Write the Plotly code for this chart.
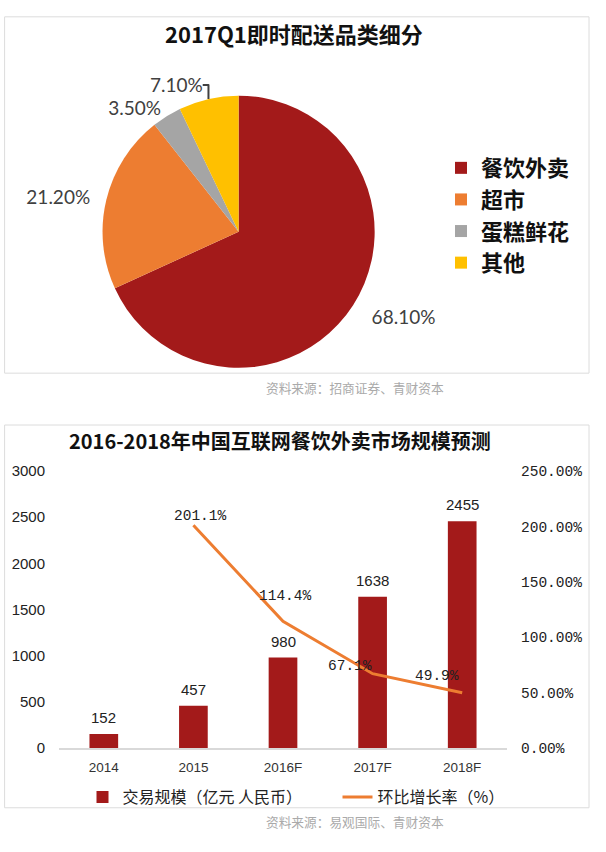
import plotly.graph_objects as go

# ---------------- data ----------------
pie_title = "2017Q1即时配送品类细分"
pie_labels = ["餐饮外卖", "超市", "蛋糕鲜花", "其他"]
pie_values = [68.1, 21.2, 3.5, 7.1]
pie_source = "资料来源：招商证券、青财资本"

bar_title = "2016-2018年中国互联网餐饮外卖市场规模预测"
years = ["2014", "2015", "2016F", "2017F", "2018F"]
gmv = [152, 457, 980, 1638, 2455]
growth_years = ["2015", "2016F", "2017F", "2018F"]
growth = [201.1, 114.4, 67.1, 49.9]
bar_name = "交易规模（亿元 人民币）"
line_name = "环比增长率（%）"
left_ticks = [0, 500, 1000, 1500, 2000, 2500, 3000]
right_ticks = [0, 50, 100, 150, 200, 250]
bar_source = "资料来源：易观国际、青财资本"

# ---------------- style ----------------
pie_colors = ["#A31A1A", "#ED7D31", "#A5A5A5", "#FFC000"]
bar_color = "#A31A1A"
line_color = "#ED7D31"
growth_label_shift = [(7, 9), (2, 25), (-23, 8), (-25, 16.5)]

# which pie carries which outside label (the two big slices get their labels
# from a slightly larger transparent pie so they sit farther from the rim)
labels_on_main = ["none", "none", "outside", "outside"]
labels_on_ring = ["outside", "outside", "none", "none"]
ring_pull = [0.03, 0, 0, 0]

W, H = 606, 852


def px(x):
    return x / W


def py(y):
    return 1 - y / H


CJK = "Noto Sans CJK SC"
SANS = "Liberation Sans"
MONO = "Liberation Mono"

PIE_CX, PIE_CY, PIE_R, RING_R = 238.6, 227.5, 139, 154.5
pie_font = dict(family="Lato", size=19, color="#404040")

fig = go.Figure()

fig.add_trace(go.Pie(
    labels=pie_labels,
    values=pie_values,
    sort=False,
    direction="clockwise",
    rotation=0,
    marker=dict(colors=pie_colors, line=dict(width=0)),
    texttemplate="%{value:.2f}%",
    textposition=labels_on_main,
    textfont=pie_font,
    domain=dict(x=[px(PIE_CX - PIE_R), px(PIE_CX + PIE_R)],
                y=[py(PIE_CY + PIE_R), py(PIE_CY - PIE_R)]),
    legend="legend",
    hoverinfo="skip",
))

fig.add_trace(go.Pie(
    labels=pie_labels,
    values=pie_values,
    sort=False,
    direction="clockwise",
    rotation=0,
    pull=ring_pull,
    marker=dict(colors=["rgba(0,0,0,0)"] * len(pie_values), line=dict(width=0)),
    texttemplate="%{value:.2f}%",
    textposition=labels_on_ring,
    textfont=pie_font,
    domain=dict(x=[px(PIE_CX - RING_R), px(PIE_CX + RING_R)],
                y=[py(PIE_CY + RING_R), py(PIE_CY - RING_R)]),
    showlegend=False,
    hoverinfo="skip",
))

fig.add_trace(go.Bar(
    x=years, y=gmv, name=bar_name,
    marker=dict(color=bar_color, line=dict(width=0)),
    legend="legend2", xaxis="x", yaxis="y",
))

fig.add_trace(go.Scatter(
    x=growth_years, y=growth, name=line_name, mode="lines",
    line=dict(color=line_color, width=3),
    legend="legend2", xaxis="x", yaxis="y2",
))


def para(text, x, y, size, color, weight="normal"):
    return dict(text=text, x=px(x), y=py(y), xref="paper", yref="paper",
                xanchor="center", yanchor="middle", showarrow=False,
                font=dict(family=CJK, size=size, color=color, weight=weight))


annotations = [
    para(pie_title, 294, 25, 22, "#111111", "bold"),
    para(bar_title, 280, 441, 20, "#111111", "bold"),
    para(pie_source, 355, 387, 12.7, "#AAAAAA"),
    para(bar_source, 355, 830, 12.7, "#AAAAAA"),
]

for cat, v in zip(years, gmv):
    annotations.append(dict(
        text=str(v), x=years.index(cat), y=v, xref="x", yref="y", yshift=16.5,
        xanchor="center", yanchor="middle",
        showarrow=False, font=dict(family=SANS, size=15, color="#222222")))

for (cat, v), (dx, dy) in zip(zip(growth_years, growth), growth_label_shift):
    annotations.append(dict(
        text=f"{v:.1f}%", x=years.index(cat), y=v, xref="x", yref="y2",
        xshift=dx, yshift=dy, xanchor="center", yanchor="middle",
        showarrow=False, font=dict(family=MONO, size=14.5, color="#222222")))

shapes = [
    dict(type="rect", xref="paper", yref="paper",
         x0=px(4.6), x1=px(589), y0=py(372), y1=py(8),
         line=dict(color="#DCDCDC", width=1)),
    dict(type="rect", xref="paper", yref="paper",
         x0=px(4.6), x1=px(589), y0=py(816), y1=py(425),
         line=dict(color="#DCDCDC", width=1)),
]

fig.update_layout(
    width=W, height=H,
    margin=dict(l=0, r=0, t=0, b=0),
    paper_bgcolor="white", plot_bgcolor="white",
    bargap=0.68,
    xaxis=dict(domain=[px(59), px(507)], anchor="y", type="category",
               categoryorder="array", categoryarray=years,
               range=[-0.5, len(years) - 0.5], autorange=False,
               showline=True, linecolor="#D9D9D9", linewidth=1.5,
               ticks="", showgrid=False, zeroline=False,
               tickfont=dict(family=SANS, size=13.5, color="#333333"),
               ticklabelstandoff=6),
    yaxis=dict(domain=[py(755), py(472)], range=[0, 3000], autorange=False,
               tickvals=left_ticks,
               showgrid=False, zeroline=False, showline=False, ticks="",
               tickfont=dict(family=SANS, size=15, color="#222222"),
               ticklabelstandoff=13),
    yaxis2=dict(overlaying="y", side="right", range=[0, 250], autorange=False,
                tickvals=right_ticks,
                ticktext=[f"{t:.2f}%" for t in right_ticks],
                showgrid=False, zeroline=False, showline=False, ticks="",
                tickfont=dict(family=MONO, size=14.5, color="#222222"),
                ticklabelstandoff=13),
    legend=dict(x=px(441), y=py(211), xanchor="left", yanchor="middle",
                bgcolor="rgba(0,0,0,0)",
                font=dict(family=CJK, size=22, color="#111111", weight="bold")),
    legend2=dict(orientation="h", x=px(82.5), y=py(805), xanchor="left", yanchor="middle",
                 bgcolor="rgba(0,0,0,0)", entrywidth=210, entrywidthmode="pixels",
                 font=dict(family=CJK, size=16, color="#222222")),
    annotations=annotations,
    shapes=shapes,
)

fig.write_html("out.html", config={"displayModeBar": False},
               post_script="document.body.style.margin='0';")
